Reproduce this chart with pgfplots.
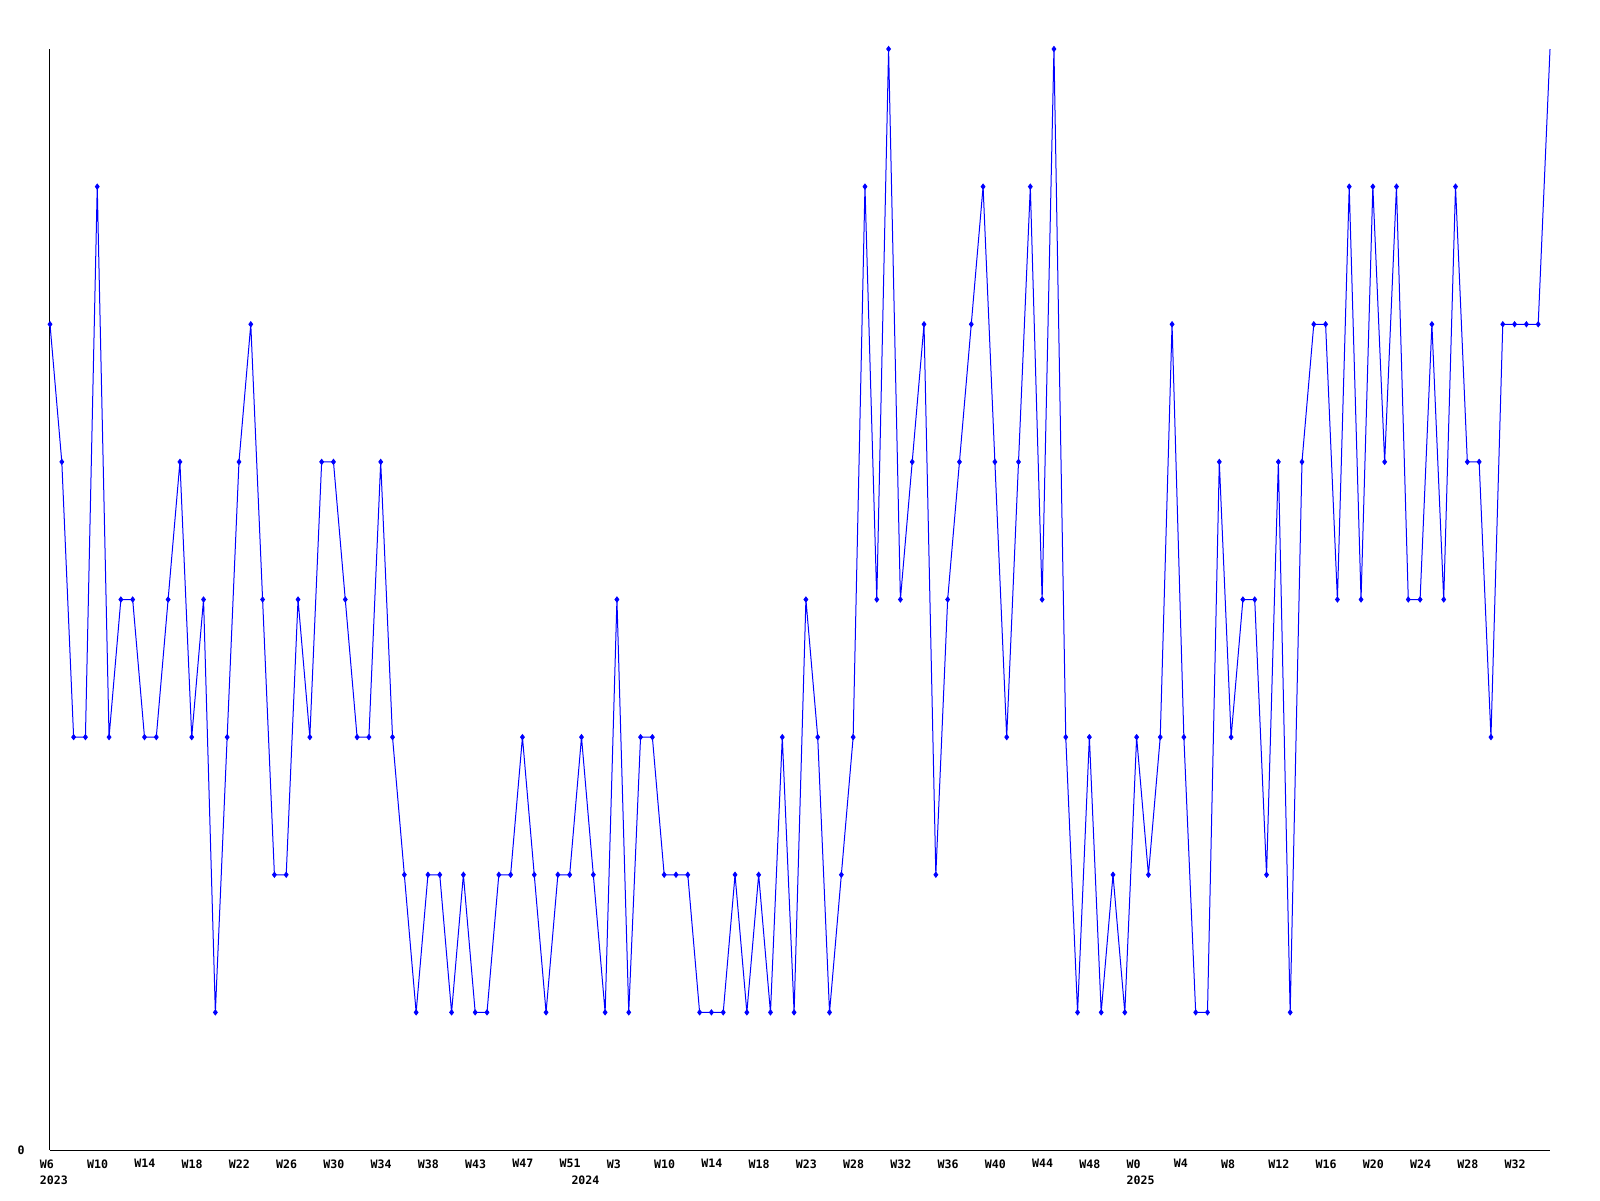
\documentclass[border=0pt]{standalone}
\usepackage{fontspec}
\setmonofont{DejaVu Sans Mono}
\usepackage{pgfplots}
\usepackage{pgfplotstable}
\pgfplotsset{compat=1.18}
\pgfplotstableread{
x y
0 6
1 5
2 3
3 3
4 7
5 3
6 4
7 4
8 3
9 3
10 4
11 5
12 3
13 4
14 1
15 3
16 5
17 6
18 4
19 2
20 2
21 4
22 3
23 5
24 5
25 4
26 3
27 3
28 5
29 3
30 2
31 1
32 2
33 2
34 1
35 2
36 1
37 1
38 2
39 2
40 3
41 2
42 1
43 2
44 2
45 3
46 2
47 1
48 4
49 1
50 3
51 3
52 2
53 2
54 2
55 1
56 1
57 1
58 2
59 1
60 2
61 1
62 3
63 1
64 4
65 3
66 1
67 2
68 3
69 7
70 4
71 8
72 4
73 5
74 6
75 2
76 4
77 5
78 6
79 7
80 5
81 3
82 5
83 7
84 4
85 8
86 3
87 1
88 3
89 1
90 2
91 1
92 3
93 2
94 3
95 6
96 3
97 1
98 1
99 5
100 3
101 4
102 4
103 2
104 5
105 1
106 5
107 6
108 6
109 4
110 7
111 4
112 7
113 5
114 7
115 4
116 4
117 6
118 4
119 7
120 5
121 5
122 3
123 6
124 6
125 6
126 6
127 8
}\datatable
\definecolor{lineblue}{RGB}{0,0,255}
\newcommand{\lblfont}{\ttfamily\bfseries\fontsize{5.8}{6}\selectfont}
\begin{document}
\begin{tikzpicture}
\useasboundingbox (0,0) rectangle (800pt,600pt);
\begin{axis}[
  at={(25pt,25pt)}, anchor=south west,
  scale only axis, width=750pt, height=550.5pt,
  xmin=0, xmax=127, ymin=0, ymax=8,
  axis x line*=bottom, axis y line*=left,
  axis line style={-, black, line width=0.5pt},
  xtick={0,4,...,124},
  xticklabels={W6,W10,W14,W18,W22,W26,W30,W34,W38,W43,W47,W51,W3,W10,W14,W18,W23,W28,W32,W36,W40,W44,W48,W0,W4,W8,W12,W16,W20,W24,W28,W32},
  ytick={0}, yticklabels={0},
  major tick length=0pt,
  tick style={draw=none},
  xticklabel style={anchor=north west, inner sep=0pt, xshift=-5.2pt, yshift=-4.5pt, font=\lblfont},
  yticklabel style={anchor=east, inner sep=0pt, xshift=-12.5pt, font=\lblfont},
  clip=false,
]
\addplot[color=lineblue, line width=0.5pt, no marks] table[x=x,y=y]{\datatable};
\addplot[color=lineblue, only marks, mark=diamond*, mark size=1.3pt, mark options={solid, fill=lineblue}, restrict x to domain=0:126] table[x=x,y=y]{\datatable};
\node[anchor=north west, inner sep=0pt, xshift=-5.2pt, yshift=-12.5pt, font=\lblfont] at (axis cs:0,0) {2023};
\node[anchor=north west, inner sep=0pt, xshift=-5.2pt, yshift=-12.5pt, font=\lblfont] at (axis cs:45,0) {2024};
\node[anchor=north west, inner sep=0pt, xshift=-5.2pt, yshift=-12.5pt, font=\lblfont] at (axis cs:92,0) {2025};
\end{axis}
\end{tikzpicture}
\end{document}
